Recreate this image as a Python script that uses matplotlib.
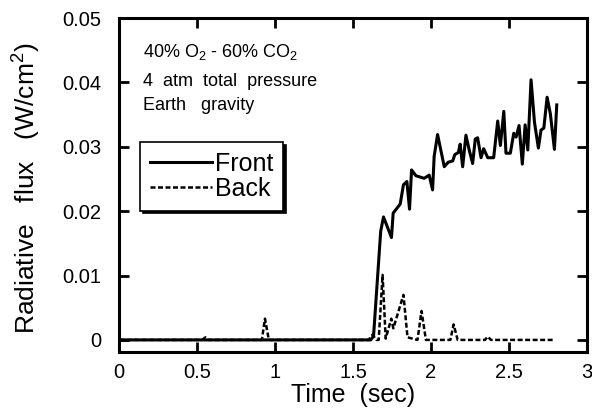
import matplotlib
matplotlib.use("Agg")
import matplotlib.pyplot as plt

plt.rcParams['font.family'] = ['Liberation Sans', 'DejaVu Sans']
plt.rcParams['mathtext.fontset'] = 'custom'
plt.rcParams['mathtext.rm'] = 'Liberation Sans'
plt.rcParams['mathtext.default'] = 'regular'

# front side radiative flux (W/cm^2) vs time (sec)
front_t = [0.0, 1.614, 1.632, 1.678, 1.696, 1.747, 1.758, 1.803, 1.824, 1.846,
           1.863, 1.876, 1.904, 1.957, 1.989, 2.011, 2.021, 2.043, 2.086, 2.111,
           2.140, 2.154, 2.176, 2.188, 2.204, 2.225, 2.246, 2.268, 2.285, 2.300,
           2.322, 2.339, 2.365, 2.403, 2.429, 2.446, 2.468, 2.482, 2.510, 2.532,
           2.547, 2.566, 2.587, 2.605, 2.622, 2.643, 2.665, 2.690, 2.707, 2.725,
           2.746, 2.767, 2.793, 2.808]
front_q = [0.0, 0.0, 0.0006, 0.0169, 0.0191, 0.0159, 0.0197, 0.0211, 0.0241, 0.0246,
           0.0203, 0.0264, 0.0255, 0.0251, 0.0256, 0.0233, 0.0285, 0.0319, 0.0269, 0.0276,
           0.0278, 0.0288, 0.0291, 0.0304, 0.0269, 0.0318, 0.0295, 0.0274, 0.0312, 0.0314,
           0.0283, 0.0297, 0.0283, 0.0283, 0.0340, 0.0302, 0.0355, 0.0290, 0.0290, 0.0321,
           0.0315, 0.0333, 0.0273, 0.0334, 0.0295, 0.0404, 0.0338, 0.0298, 0.0326, 0.0329,
           0.0377, 0.0351, 0.0296, 0.0365]

# back side radiative flux
back_t = [0.0, 0.53, 0.553, 0.57, 0.915, 0.935, 0.96, 1.60, 1.625, 1.65,
          1.665, 1.69, 1.71, 1.746, 1.759, 1.824, 1.850, 1.914, 1.940, 1.968,
          2.125, 2.146, 2.172, 2.347, 2.365, 2.386, 2.789]
back_q = [0.0, 0.0, 0.0004, 0.0, 0.0, 0.0033, 0.0, 0.0, 0.0008, 0.0,
          0.0, 0.0101, 0.0002, 0.0033, 0.0018, 0.0070, 0.0004, 0.0, 0.0045, 0.0,
          0.0, 0.0024, 0.0, 0.0, 0.0005, 0.0, 0.0]

fig = plt.figure(figsize=(5.92, 4.15), dpi=100)
ax = fig.add_axes([0.2015, 0.153, 0.7895, 0.8036])

ax.plot(front_t, front_q, color='black', lw=2.2, label='Front')
ax.plot(back_t, back_q, color='black', lw=1.8, linestyle=(0, (2, 1)), label='Back')

ax.set_xlim(0, 3)
ax.set_ylim(-0.0018, 0.05)
ax.set_xticks([0, 0.5, 1, 1.5, 2, 2.5, 3])
ax.set_xticklabels(['0', '0.5', '1', '1.5', '2', '2.5', '3'])
ax.set_yticks([0, 0.01, 0.02, 0.03, 0.04, 0.05])
ax.set_yticklabels(['0', '0.01', '0.02', '0.03', '0.04', '0.05'])
ax.tick_params(direction='in', length=7.5, width=2, top=True, right=True,
               labelsize=14.5)
ax.tick_params(axis='x', pad=8)
ax.tick_params(axis='y', pad=13)
for s in ax.spines.values():
    s.set_linewidth(2.2)

ax.set_xlabel('Time  (sec)', fontsize=18)
ax.set_ylabel('Radiative   flux   (W/cm$^2$)', fontsize=19)
ax.xaxis.set_label_coords(0.5, -0.095)
ax.yaxis.set_label_coords(-0.163, 0.49)

ax.text(0.05, 0.898, '40% O$_2$ - 60% CO$_2$', transform=ax.transAxes,
        fontsize=13, va='center')
ax.text(0.05, 0.809, '4  atm  total  pressure', transform=ax.transAxes,
        fontsize=13, va='center')
ax.text(0.05, 0.739, 'Earth   gravity', transform=ax.transAxes,
        fontsize=13, va='center')

leg = ax.legend(loc='upper left', bbox_to_anchor=(0.044, 0.628), fontsize=18,
                frameon=True, fancybox=False, handlelength=2.5,
                handletextpad=0.1, labelspacing=0.02, borderpad=0.4,
                borderaxespad=0, shadow={'color': 'black', 'alpha': 1})
leg.get_frame().set_edgecolor('black')
leg.get_frame().set_linewidth(1.2)

fig.savefig('out.png', dpi=100)
